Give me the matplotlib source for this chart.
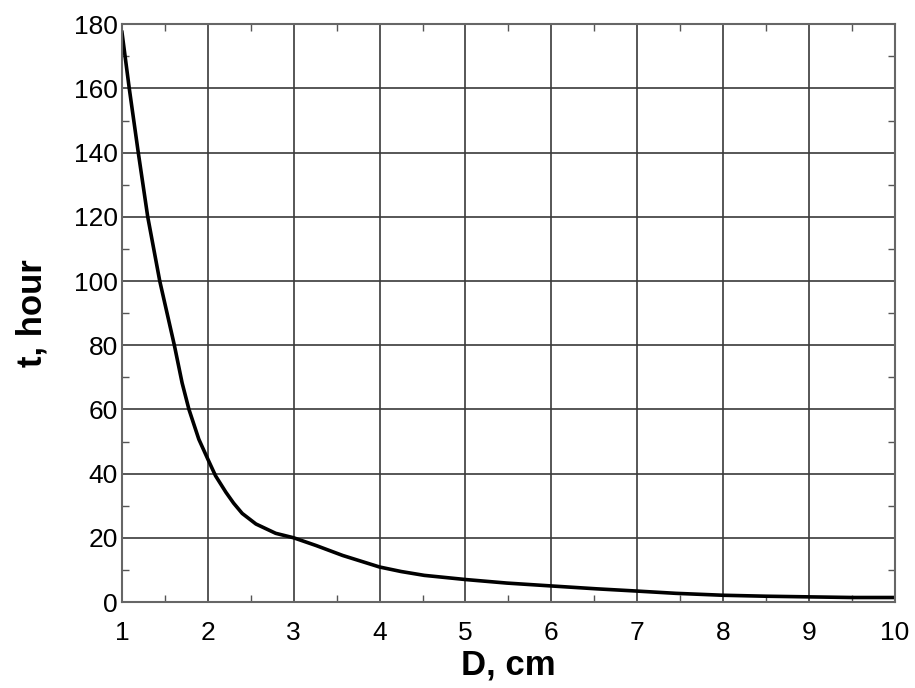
import matplotlib
matplotlib.use("Agg")
import matplotlib.pyplot as plt
from matplotlib.ticker import MultipleLocator

D_cm = [1.0, 1.085, 1.19, 1.30, 1.44, 1.61, 1.70, 1.78, 1.895, 2.0, 2.09, 2.21,
        2.30, 2.40, 2.56, 2.79, 3.0, 3.26, 3.57, 4.0, 4.25, 4.52, 5.0, 5.48, 6.0,
        6.53, 7.0, 7.45, 8.0, 8.5, 9.0, 9.5, 10.0]
t_hour = [177.5, 160, 140, 120, 100, 80, 68.3, 60, 50.7, 44.5, 39.3, 34.2,
          30.8, 27.6, 24.3, 21.4, 20.0, 17.6, 14.5, 10.9, 9.5, 8.3, 7.0, 5.9, 5.0,
          4.1, 3.4, 2.7, 2.1, 1.8, 1.6, 1.4, 1.4]
x_ticks = [1, 2, 3, 4, 5, 6, 7, 8, 9, 10]
y_ticks = [0, 20, 40, 60, 80, 100, 120, 140, 160, 180]

plt.rcParams['font.family'] = ['Liberation Sans', 'DejaVu Sans']

fig = plt.figure(figsize=(9.15, 6.88), dpi=100)
ax = fig.add_axes([0.1333, 0.125, 0.978 - 0.1333, 0.9647 - 0.125])

ax.plot(D_cm, t_hour, color='black', linewidth=2.6, solid_joinstyle='round')

ax.set_xlim(1, 10)
ax.set_ylim(0, 180)
ax.set_xticks(x_ticks)
ax.set_yticks(y_ticks)
ax.xaxis.set_minor_locator(MultipleLocator(0.5))
ax.yaxis.set_minor_locator(MultipleLocator(10))
ax.grid(True, which='major', color='#3a3a3a', linewidth=1.2)
ax.set_axisbelow(True)

ax.tick_params(which='major', direction='in', length=0, labelsize=19,
               top=True, right=True)
ax.tick_params(axis='x', which='major', pad=14)
ax.tick_params(axis='y', which='major', pad=3)
ax.tick_params(which='minor', direction='in', length=5, width=1.0,
               color='#555555', top=True, right=True)
for s in ax.spines.values():
    s.set_color('#666666')
    s.set_linewidth(1.5)

ax.set_xlabel('D, cm', fontsize=25, fontweight='bold', labelpad=2)
ax.set_ylabel('t, hour', fontsize=25, fontweight='bold', labelpad=18)

fig.savefig('out.png', dpi=100)
